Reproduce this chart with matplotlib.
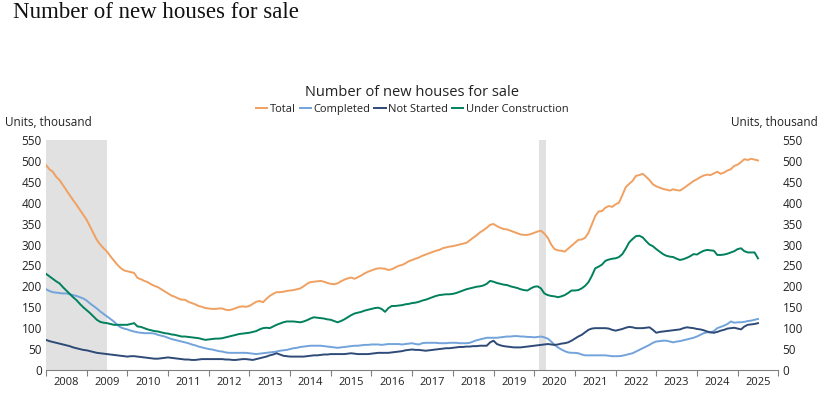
import numpy as np
import matplotlib
matplotlib.use("Agg")
from matplotlib import pyplot as plt
from matplotlib.ticker import FixedLocator, NullFormatter

# monthly data, Jan 2008 - Jul 2025, thousand units
total = [
    490, 480, 474, 462, 454, 442, 430, 418, 406, 395, 383, 371,  # 2008
    359, 343, 327, 311, 300, 291, 283, 272, 262, 252, 244, 238,  # 2009
    236, 234, 232, 220, 217, 213, 210, 205, 201, 198, 193, 188,  # 2010
    183, 178, 175, 171, 168, 168, 163, 160, 157, 153, 151, 148,  # 2011
    147, 146, 146, 147, 147, 144, 143, 145, 148, 151, 152, 151,  # 2012
    153, 158, 163, 165, 162, 170, 177, 182, 186, 186, 187, 189,  # 2013
    190, 191, 193, 195, 200, 206, 210, 211, 212, 213, 211, 208,  # 2014
    206, 205, 207, 212, 216, 219, 221, 218, 222, 226, 231, 235,  # 2015
    238, 241, 243, 243, 242, 239, 241, 245, 249, 251, 255, 260,  # 2016
    263, 266, 269, 273, 276, 279, 282, 285, 287, 291, 293, 295,  # 2017
    296, 298, 300, 302, 304, 310, 316, 322, 329, 334, 340, 347,  # 2018
    349, 344, 340, 337, 336, 333, 330, 327, 324, 323, 323, 325,  # 2019
    328, 331, 333, 326, 316, 300, 289, 286, 285, 283, 290, 297,  # 2020
    304, 311, 312, 316, 328, 348, 368, 379, 380, 388, 392, 390,  # 2021
    396, 400, 418, 437, 445, 452, 464, 466, 469, 462, 454, 444,  # 2022
    439, 436, 433, 431, 429, 432, 430, 429, 434, 440, 446, 452,  # 2023
    456, 461, 465, 467, 466, 470, 474, 469, 472, 477, 480, 488,  # 2024
    491, 497, 504, 502, 505, 503, 501,                           # 2025
]
completed = [
    193, 189, 186, 185, 184, 183, 183, 181, 179, 177, 174, 171,
    166, 159, 153, 147, 140, 134, 128, 122, 116, 108, 102, 99,
    97, 94, 92, 90, 89, 88, 88, 88, 87, 84, 82, 80,
    77, 74, 72, 70, 68, 66, 64, 61, 59, 56, 54, 52,
    50, 49, 47, 45, 44, 42, 41, 41, 41, 41, 41, 41,
    40, 39, 38, 39, 40, 41, 42, 43, 44, 46, 47, 48,
    50, 52, 53, 55, 56, 57, 58, 58, 58, 58, 57, 56,
    55, 54, 53, 54, 55, 56, 57, 58, 58, 59, 60, 60,
    61, 61, 61, 60, 61, 62, 62, 62, 62, 61, 62, 63,
    64, 62, 61, 64, 65, 65, 65, 65, 64, 64, 64, 65,
    65, 65, 64, 64, 64, 65, 68, 71, 73, 75, 77, 77,
    77, 77, 78, 79, 80, 80, 81, 81, 80, 80, 79, 79,
    78, 79, 80, 78, 75, 68, 60, 54, 49, 45, 42, 41,
    41, 40, 37, 35, 35, 35, 35, 35, 35, 35, 34, 33,
    33, 33, 34, 36, 38, 40, 44, 48, 52, 56, 60, 65,
    68, 69, 70, 70, 68, 66, 68, 69, 71, 73, 75, 77,
    80, 84, 88, 90, 90, 93, 100, 103, 106, 110, 116, 113,
    114, 114, 115, 117, 118, 120, 122,
]
not_started = [
    72, 69, 67, 65, 63, 61, 59, 57, 54, 52, 50, 48,
    47, 45, 43, 41, 40, 39, 38, 37, 36, 35, 34, 33,
    32, 33, 33, 32, 31, 30, 29, 28, 27, 27, 28, 29,
    30, 29, 28, 27, 26, 25, 25, 24, 24, 25, 26, 26,
    26, 26, 26, 26, 26, 25, 25, 24, 24, 25, 26, 26,
    25, 24, 26, 28, 30, 32, 35, 37, 40, 37, 34, 33,
    32, 32, 32, 32, 32, 33, 34, 35, 35, 36, 37, 37,
    38, 38, 38, 38, 38, 39, 40, 39, 38, 38, 38, 38,
    39, 40, 41, 41, 41, 41, 42, 43, 44, 45, 47, 48,
    49, 48, 48, 47, 46, 47, 48, 49, 50, 51, 52, 52,
    53, 54, 55, 55, 56, 56, 57, 57, 58, 58, 58, 66,
    70, 62, 59, 57, 56, 55, 54, 54, 54, 55, 56, 57,
    58, 59, 60, 61, 62, 61, 60, 61, 63, 64, 66, 70,
    75, 80, 84, 90, 96, 99, 100, 100, 100, 100, 99, 96,
    94, 96, 98, 101, 103, 102, 100, 100, 100, 101, 102, 96,
    89, 91, 92, 93, 94, 95, 96, 97, 100, 102, 101, 100,
    98, 97, 95, 92, 90, 89, 91, 94, 96, 99, 100, 101,
    99, 97, 104, 108, 109, 110, 112,
]
under_construction = [
    230, 224, 218, 212, 207, 198, 190, 182, 174, 167, 158, 150,
    143, 136, 128, 120, 115, 113, 112, 110, 108, 108, 108, 108,
    108, 110, 112, 104, 103, 100, 97, 95, 93, 92, 90, 88,
    87, 85, 84, 82, 80, 80, 79, 78, 77, 76, 74, 72,
    73, 74, 75, 75, 76, 78, 80, 82, 84, 86, 87, 88,
    89, 91, 93, 97, 100, 101, 100, 104, 108, 111, 114, 116,
    116, 116, 115, 114, 116, 119, 123, 126, 125, 124, 123, 121,
    120, 117, 114, 117, 121, 126, 131, 135, 137, 139, 142, 144,
    146, 148, 149, 146, 139, 148, 153, 153, 154, 155, 157, 158,
    160, 161, 163, 166, 168, 171, 174, 177, 179, 180, 181, 181,
    182, 184, 187, 190, 193, 195, 197, 199, 200, 202, 206, 213,
    211, 208, 206, 204, 203, 200, 198, 196, 193, 191, 190, 195,
    199, 200, 195, 183, 179, 177, 176, 174, 176, 179, 184, 190,
    190, 191, 195, 201, 210, 225, 243, 247, 252, 261, 264, 266,
    267, 270, 277, 290, 305, 313, 320, 321, 317, 308, 300, 296,
    289, 283, 277, 273, 271, 270, 266, 263, 265, 268, 272, 277,
    276, 281, 285, 287, 286, 285, 275, 275, 276, 278, 281, 284,
    289, 291, 284, 281, 281, 281, 267,
]

series_names = ["Total", "Completed", "Not Started", "Under Construction"]
series_colors = ["#F0A061", "#72A3DB", "#2E4A77", "#00805C"]
years = list(range(2008, 2026))
recessions = [(2008.0, 2009.5), (2020.12, 2020.3)]

plt.rcParams["font.family"] = ["Open Sans", "DejaVu Sans"]

fig = plt.figure(figsize=(8.36, 3.98), dpi=100)
ax = fig.add_axes([0.055, 0.0704, 0.876, 0.578])

# x position of each monthly point: year + (month-1)/12
x = 2008 + np.arange(len(total)) / 12.0

for start, end in recessions:
    ax.axvspan(start, end, color="#E0E1E0", lw=0, zorder=0)

data = [total, completed, not_started, under_construction]
for vals, name, col in zip(data, series_names, series_colors):
    ax.plot(x, vals, color=col, lw=1.4, label=name, zorder=2)

ax.set_xlim(2008, 2026)
ax.set_ylim(0, 550)
ax.set_yticks(np.arange(0, 551, 50))

# year boundaries as ticks, labels centred between them
ax.xaxis.set_major_locator(FixedLocator(years + [2026]))
ax.xaxis.set_major_formatter(NullFormatter())
ax.xaxis.set_minor_locator(FixedLocator([y + 0.5 for y in years]))
ax.set_xticklabels([str(y) for y in years], minor=True)
ax.tick_params(axis="x", which="major", length=4, color="#808080", width=0.8)
ax.tick_params(axis="x", which="minor", length=0, labelsize=8, pad=5, colors="#222222")
ax.tick_params(axis="y", length=0, labelsize=8.5, colors="#222222",
               labelleft=True, labelright=True, pad=3)

for side in ["top", "left", "right"]:
    ax.spines[side].set_visible(False)
ax.spines["bottom"].set_color("#808080")
ax.spines["bottom"].set_linewidth(0.8)

fig.text(0.015, 0.995, "Number of new houses for sale", family=["Liberation Serif", "DejaVu Serif"],
         fontsize=16.5, va="top", ha="left", color="#111111")
fig.text(0.493, 0.768, "Number of new houses for sale", fontsize=10.5, ha="center", va="center",
         color="#222222")
fig.text(0.006, 0.693, "Units, thousand", fontsize=8.5, ha="left", va="center", color="#222222")
fig.text(0.978, 0.693, "Units, thousand", fontsize=8.5, ha="right", va="center", color="#222222")

fig.legend(loc="center", bbox_to_anchor=(0.493, 0.724), ncol=4, frameon=False, fontsize=8,
           handlelength=1.0, handletextpad=0.2, columnspacing=0.4, labelcolor="#222222")

fig.savefig("out.png", dpi=100)
